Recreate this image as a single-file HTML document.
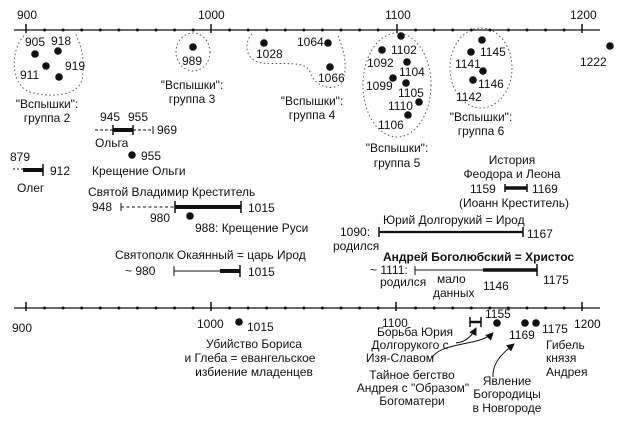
<!DOCTYPE html>
<html><head><meta charset="utf-8"><style>
html,body{margin:0;padding:0;background:#fff}
svg{display:block}
text{font-family:"Liberation Sans",Arial,sans-serif;font-size:12px;fill:#111}
.c{text-anchor:middle}
</style></head><body>
<svg width="620" height="430" viewBox="0 0 620 430" xmlns="http://www.w3.org/2000/svg">
<defs><marker id="ar" markerWidth="8" markerHeight="8" refX="7" refY="4" orient="auto"><path d="M0,0 L8,4 L0,8 z" fill="#111"/></marker></defs>
<g stroke="#111" fill="none">
<line x1="14" y1="30" x2="600" y2="30" stroke-width="1.3"/>
<line x1="26" y1="24" x2="26" y2="33" stroke-width="1.5"/>
<line x1="211" y1="24" x2="211" y2="33" stroke-width="1.5"/>
<line x1="397" y1="24" x2="397" y2="33" stroke-width="1.5"/>
<line x1="582" y1="24" x2="582" y2="33" stroke-width="1.5"/>
<line x1="14" y1="308" x2="600" y2="308" stroke-width="1.3"/>
<line x1="26" y1="302" x2="26" y2="311" stroke-width="1.5"/>
<line x1="211" y1="302" x2="211" y2="311" stroke-width="1.5"/>
<line x1="396" y1="302" x2="396" y2="311" stroke-width="1.5"/>
<line x1="582" y1="302" x2="582" y2="311" stroke-width="1.5"/>
<g stroke-dasharray="1.5 2.5" stroke="#555">
<path d="M24,36 C10,50 10,85 30,92 C50,98 78,96 82,80 C86,60 80,42 75,33"/>
<ellipse cx="193" cy="52" rx="17" ry="19"/>
<path d="M252,34 C244,42 244,60 262,63 C285,65 305,60 310,72 C315,88 335,92 342,82 C348,70 345,52 338,36"/>
<ellipse cx="397" cy="85" rx="34" ry="52"/>
<ellipse cx="481" cy="68" rx="31" ry="40"/>
</g>
<line x1="95" y1="130" x2="113" y2="130" stroke-dasharray="3 2"/>
<line x1="113" y1="130" x2="133" y2="130" stroke-width="4"/>
<line x1="113" y1="125" x2="113" y2="135" stroke-width="1.5"/>
<line x1="133" y1="125" x2="133" y2="135" stroke-width="1.5"/>
<line x1="133" y1="130" x2="153" y2="130" stroke-dasharray="3 2"/>
<line x1="153" y1="126" x2="153" y2="134"/>
<line x1="13" y1="169" x2="23" y2="169" stroke-dasharray="2 2"/>
<line x1="23" y1="170" x2="43" y2="170" stroke-width="4"/>
<line x1="43" y1="164" x2="43" y2="176" stroke-width="1.5"/>
<line x1="121" y1="203" x2="121" y2="211"/>
<line x1="121" y1="207" x2="175" y2="207" stroke-dasharray="3 2.5"/>
<line x1="175" y1="207" x2="241" y2="207" stroke-width="4"/>
<line x1="175" y1="201" x2="175" y2="213" stroke-width="1.5"/>
<line x1="241" y1="201" x2="241" y2="213" stroke-width="1.5"/>
<line x1="174" y1="266" x2="174" y2="276"/>
<line x1="174" y1="271" x2="220" y2="271"/>
<line x1="220" y1="271" x2="240" y2="271" stroke-width="4"/>
<line x1="240" y1="265" x2="240" y2="277" stroke-width="1.5"/>
<line x1="505" y1="188" x2="527" y2="188" stroke-width="3.5"/>
<line x1="505" y1="184" x2="505" y2="192" stroke-width="1.5"/>
<line x1="527" y1="184" x2="527" y2="192" stroke-width="1.5"/>
<line x1="379" y1="227" x2="379" y2="237" stroke-width="1.5"/>
<line x1="379" y1="232" x2="523" y2="232" stroke-width="2.2"/>
<line x1="523" y1="227" x2="523" y2="237" stroke-width="1.5"/>
<line x1="415" y1="266" x2="415" y2="275"/>
<line x1="415" y1="270" x2="483" y2="270"/>
<line x1="483" y1="270" x2="537" y2="270" stroke-width="3.5"/>
<line x1="537" y1="264" x2="537" y2="276" stroke-width="1.5"/>
<line x1="470" y1="322" x2="481" y2="322" stroke-width="2.5"/>
<line x1="470" y1="317" x2="470" y2="327" stroke-width="1.5"/>
<line x1="481" y1="317" x2="481" y2="327" stroke-width="1.5"/>
<path d="M456,343 C466,342 472,336 476,328" marker-end="url(#ar)"/>
<path d="M432,358 C440,342 480,346 493,333" marker-end="url(#ar)"/>
<path d="M493,377 C492,362 504,352 514,344" marker-end="url(#ar)"/>
</g>
<g fill="#111">
<g id="md">
<circle cx="44.6" cy="30" r="1.5"/><circle cx="63.1" cy="30" r="1.5"/><circle cx="81.7" cy="30" r="1.5"/><circle cx="100.3" cy="30" r="1.5"/><circle cx="118.9" cy="30" r="1.5"/><circle cx="137.4" cy="30" r="1.5"/><circle cx="156" cy="30" r="1.5"/><circle cx="174.6" cy="30" r="1.5"/><circle cx="193.1" cy="30" r="1.5"/>
<circle cx="229.6" cy="30" r="1.5"/><circle cx="248.1" cy="30" r="1.5"/><circle cx="266.7" cy="30" r="1.5"/><circle cx="285.3" cy="30" r="1.5"/><circle cx="303.9" cy="30" r="1.5"/><circle cx="322.4" cy="30" r="1.5"/><circle cx="341" cy="30" r="1.5"/><circle cx="359.6" cy="30" r="1.5"/><circle cx="378.1" cy="30" r="1.5"/>
<circle cx="415.6" cy="30" r="1.5"/><circle cx="434.1" cy="30" r="1.5"/><circle cx="452.7" cy="30" r="1.5"/><circle cx="471.3" cy="30" r="1.5"/><circle cx="489.9" cy="30" r="1.5"/><circle cx="508.4" cy="30" r="1.5"/><circle cx="527" cy="30" r="1.5"/><circle cx="545.6" cy="30" r="1.5"/><circle cx="564.1" cy="30" r="1.5"/>
</g>
<use href="#md" y="278"/>
<g>
<circle cx="35" cy="54" r="3.8"/><circle cx="58" cy="51" r="3.8"/><circle cx="46" cy="66" r="3.8"/><circle cx="59" cy="77" r="3.8"/>
<circle cx="193" cy="47" r="3.8"/>
<circle cx="264" cy="43" r="3.8"/><circle cx="328" cy="43" r="3.8"/><circle cx="330" cy="67" r="3.8"/>
<circle cx="401" cy="36" r="3.8"/><circle cx="382" cy="50" r="3.8"/><circle cx="407" cy="62" r="3.8"/><circle cx="393" cy="78" r="3.8"/><circle cx="406" cy="83" r="3.8"/><circle cx="419" cy="102" r="3.8"/><circle cx="408" cy="115" r="3.8"/>
<circle cx="482" cy="40" r="3.8"/><circle cx="471" cy="52" r="3.8"/><circle cx="483" cy="71" r="3.8"/><circle cx="473" cy="80" r="3.8"/>
<circle cx="610" cy="46" r="3.8"/>
<circle cx="132" cy="155" r="3.8"/>
<circle cx="190" cy="216" r="3.8"/>
<circle cx="239" cy="322" r="3.8"/>
<circle cx="497" cy="323" r="3.8"/><circle cx="525" cy="323" r="3.8"/><circle cx="536" cy="323" r="3.8"/>
</g>
</g>
<text x="17" y="19">900</text><text x="198" y="19">1000</text><text x="385" y="19">1100</text><text x="570" y="19">1200</text>
<text x="12" y="332">900</text><text x="197" y="328">1000</text><text x="382" y="327">1100</text><text x="574" y="328">1200</text>
<text x="25" y="46">905</text><text x="51" y="45">918</text><text x="20" y="79">911</text><text x="65" y="70">919</text>
<text x="182" y="65">989</text>
<text x="256" y="58">1028</text><text x="297" y="46">1064</text><text x="318" y="82">1066</text>
<text x="391" y="54">1102</text><text x="367" y="67">1092</text><text x="399" y="76">1104</text><text x="366" y="90">1099</text><text x="398" y="97">1105</text><text x="388" y="110">1110</text><text x="378" y="129">1106</text>
<text x="480" y="56">1145</text><text x="455" y="68">1141</text><text x="478" y="88">1146</text><text x="456" y="101">1142</text>
<text x="580" y="66">1222</text>
<text class="c" x="47" y="108">"Вспышки":</text><text class="c" x="47" y="122">группа 2</text>
<text class="c" x="192" y="89">"Вспышки":</text><text class="c" x="192" y="103">группа 3</text>
<text class="c" x="312" y="105">"Вспышки":</text><text class="c" x="312" y="119">группа 4</text>
<text class="c" x="397" y="152">"Вспышки":</text><text class="c" x="397" y="167">группа 5</text>
<text class="c" x="481" y="121">"Вспышки":</text><text class="c" x="481" y="135">группа 6</text>
<text x="100" y="121">945</text><text x="128" y="121">955</text><text x="157" y="134">969</text>
<text x="95" y="147">Ольга</text>
<text x="141" y="160">955</text><text x="92" y="175">Крещение Ольги</text>
<text x="10" y="161">879</text><text x="50" y="175">912</text><text x="17" y="192">Олег</text>
<text x="88" y="196">Святой Владимир Креститель</text>
<text x="92" y="211">948</text><text x="248" y="212">1015</text><text x="150" y="222">980</text>
<text x="195" y="232">988: Крещение Руси</text>
<text x="115" y="259">Святополк Окаянный = царь Ирод</text>
<text x="125" y="275">~ 980</text><text x="248" y="276">1015</text>
<text class="c" x="512" y="164">История</text><text class="c" x="512" y="178">Феодора и Леона</text>
<text x="470" y="193">1159</text><text x="532" y="193">1169</text>
<text class="c" x="514" y="207">(Иоанн Креститель)</text>
<text x="383" y="224">Юрий Долгорукий = Ирод</text>
<text x="340" y="236">1090:</text><text x="527" y="238">1167</text><text x="333" y="250">родился</text>
<text x="383" y="261" style="font-weight:bold">Андрей Боголюбский = Христос</text>
<text x="370" y="274">~ 1111:</text><text x="380" y="286">родился</text>
<text x="437" y="283">мало</text><text x="433" y="297">данных</text>
<text x="483" y="290">1146</text><text x="543" y="284">1175</text>
<text x="247" y="331">1015</text>
<text class="c" x="254" y="348">Убийство Бориса</text><text class="c" x="250" y="362">и Глеба = евангельское</text><text class="c" x="254" y="376">избиение младенцев</text>
<text x="485" y="318">1155</text><text x="509" y="339">1169</text><text x="542" y="333">1175</text>
<text class="c" x="415" y="336">Борьба Юрия</text><text class="c" x="410" y="349">Долгорукого с</text><text class="c" x="400" y="362">Изя-Славом</text>
<text class="c" x="412" y="379">Тайное бегство</text><text class="c" x="413" y="392">Андрея с "Образом"</text><text class="c" x="412" y="405">Богоматери</text>
<text class="c" x="507" y="385">Явление</text><text class="c" x="507" y="398">Богородицы</text><text class="c" x="507" y="412">в Новгороде</text>
<text x="546" y="349">Гибель</text><text x="546" y="362">князя</text><text x="546" y="376">Андрея</text>
</svg>
</body></html>
